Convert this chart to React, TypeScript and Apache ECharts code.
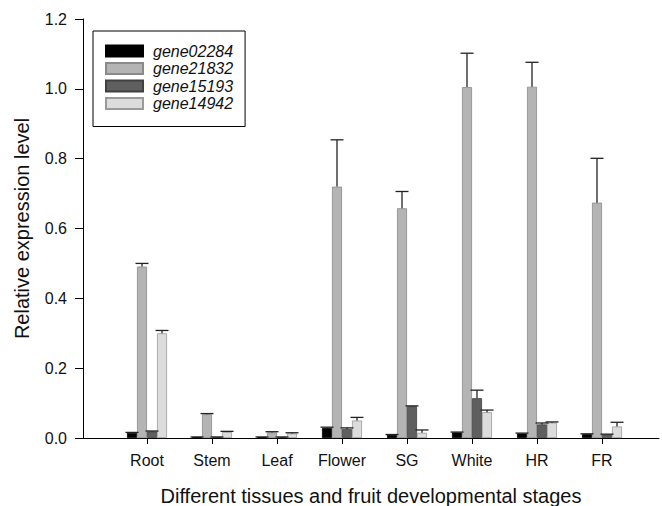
import React, { useEffect, useRef } from "react";
import * as echarts from "echarts";

const categories = ["Root", "Stem", "Leaf", "Flower", "SG", "White", "HR", "FR"];
const seriesNames = ["gene02284", "gene21832", "gene15193", "gene14942"];
const g02284 = [0.015, 0.003, 0.003, 0.029, 0.009, 0.016, 0.013, 0.011];
const e02284 = [0.001, 0.0, 0.0, 0.002, 0.001, 0.001, 0.001, 0.001];
const g21832 = [0.491, 0.068, 0.016, 0.72, 0.658, 1.005, 1.006, 0.674];
const e21832 = [0.009, 0.002, 0.002, 0.134, 0.048, 0.097, 0.07, 0.127];
const g15193 = [0.019, 0.003, 0.003, 0.026, 0.091, 0.114, 0.039, 0.01];
const e15193 = [0.001, 0.0, 0.0, 0.003, 0.001, 0.023, 0.004, 0.001];
const g14942 = [0.3, 0.017, 0.013, 0.05, 0.015, 0.074, 0.044, 0.033];
const e14942 = [0.008, 0.002, 0.002, 0.009, 0.008, 0.006, 0.002, 0.012];
const yTicks = [0, 0.2, 0.4, 0.6, 0.8, 1.0, 1.2];

const colors = ["#000000", "#b4b4b4", "#5f5f5f", "#dcdcdc"];
const borders = ["#000000", "#8a8a8a", "#404040", "#9a9a9a"];
const FONT = "'Liberation Sans', Arial, Helvetica, sans-serif";

export default function App() {
  const ref = useRef<HTMLDivElement>(null);
  useEffect(() => {
    if (!ref.current) return;
    const chart = echarts.init(ref.current, null, { renderer: "svg" });
    const means = [g02284, g21832, g15193, g14942];
    const errs = [e02284, e21832, e15193, e14942];
    const barW = 10;
    const offsets = [-1.5 * barW, -0.5 * barW, 0.5 * barW, 1.5 * barW];

    const barSeries = means.map((vals, s) => ({
      name: seriesNames[s],
      type: "bar",
      xAxisIndex: 1,
      yAxisIndex: 1,
      barWidth: barW,
      barGap: "0%",
      data: vals,
      itemStyle: { color: colors[s], borderColor: borders[s], borderWidth: 0.8 },
      z: 2,
    }));

    const errSeries = means.map((vals, s) => ({
      name: "err_" + seriesNames[s],
      type: "custom",
      xAxisIndex: 1,
      yAxisIndex: 1,
      z: 3,
      data: vals.map((v, i) => [i, v + errs[s][i], v]),
      encode: { x: 0, y: 1 },
      renderItem: (params: any, api: any) => {
        const top = api.coord([api.value(0), api.value(1)]);
        const base = api.coord([api.value(0), api.value(2)]);
        const x = top[0] + offsets[s];
        const style = { stroke: "#222", lineWidth: 1.3 };
        return {
          type: "group",
          children: [
            { type: "line", shape: { x1: x, y1: base[1], x2: x, y2: top[1] }, style },
            { type: "line", shape: { x1: x - 6.5, y1: top[1], x2: x + 6.5, y2: top[1] }, style },
          ],
        };
      },
    }));

    const option: any = {
      animation: false,
      backgroundColor: "#ffffff",
      textStyle: { fontFamily: FONT },
      grid: [
        { left: 83, right: 3, top: 19, bottom: 68, containLabel: false, outerBoundsMode: "none" },
        { left: 114.5, right: 27.5, top: 19, bottom: 68, containLabel: false, outerBoundsMode: "none" },
      ],
      legend: {
        data: seriesNames,
        orient: "vertical",
        left: 93,
        top: 31,
        icon: "rect",
        itemWidth: 37,
        itemHeight: 11,
        itemGap: 1.5,
        padding: [12, 12, 15, 12],
        borderColor: "#000",
        borderWidth: 1,
        textStyle: {
          fontFamily: FONT,
          fontSize: 16,
          fontStyle: "italic",
          lineHeight: 16,
          color: "#111",
          padding: [0, 0, 0, 5],
        },
      },
      xAxis: [
        {
          type: "value",
          gridIndex: 0,
          min: 0,
          max: 1,
          axisLine: { show: true, lineStyle: { color: "#000", width: 1 } },
          axisTick: { show: false },
          axisLabel: { show: false },
          splitLine: { show: false },
          name: "Different tissues and fruit developmental stages",
          nameLocation: "middle",
          nameGap: 48,
          nameTextStyle: { fontFamily: FONT, fontSize: 20, color: "#111" },
        },
        {
          type: "category",
          gridIndex: 1,
          data: categories,
          axisLine: { show: false },
          axisTick: { show: true, alignWithLabel: true, length: 6, lineStyle: { color: "#000" } },
          axisLabel: { fontFamily: FONT, fontSize: 16, color: "#111", margin: 14 },
          splitLine: { show: false },
        },
      ],
      yAxis: [
        {
          type: "value",
          gridIndex: 0,
          min: yTicks[0],
          max: yTicks[yTicks.length - 1],
          interval: 0.2,
          axisLine: { show: true, lineStyle: { color: "#000", width: 1 } },
          axisTick: { show: true, length: 8, lineStyle: { color: "#000" } },
          axisLabel: {
            fontFamily: FONT,
            fontSize: 16,
            color: "#111",
            margin: 16,
            formatter: (v: number) => v.toFixed(1),
          },
          splitLine: { show: false },
          name: "Relative expression level",
          nameLocation: "middle",
          nameGap: 51,
          nameTextStyle: { fontFamily: FONT, fontSize: 20, color: "#111" },
        },
        {
          type: "value",
          gridIndex: 1,
          min: yTicks[0],
          max: yTicks[yTicks.length - 1],
          interval: 0.2,
          show: false,
        },
      ],
      series: [...barSeries, ...errSeries],
    };
    chart.setOption(option);
    return () => chart.dispose();
  }, []);
  return (
    <div
      ref={ref}
      style={{ position: "fixed", left: 0, top: 0, width: 662, height: 506, background: "#fff" }}
    />
  );
}
